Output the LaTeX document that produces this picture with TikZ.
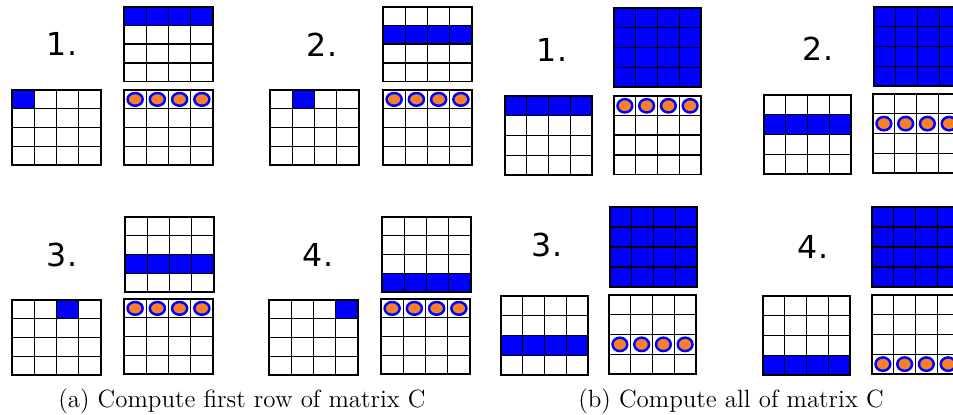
\documentclass[tikz,border=0pt]{standalone}
\usepackage{fontspec}
\newfontfamily\stepfont{DejaVu Sans}
\usetikzlibrary{positioning}
\definecolor{mBlue}{RGB}{0,0,255}
\definecolor{mOrange}{RGB}{250,128,40}
\tikzset{
  mgridline/.style={draw=black, line width=0.8pt, line cap=rect},
  mrowfill/.style={fill=mBlue},
  mdot/.style={draw=mBlue, fill=mOrange, line width=1.4pt},
  mstep/.style={font=\stepfont\fontsize{18}{20}\selectfont, inner sep=0pt},
  mcaption/.style={font=\fontsize{14.2}{16}\selectfont, inner sep=0pt},
}
% left, top, cell width, cell height, what goes into the cells
\newcommand{\cellgrid}[5]{%
  \begin{scope}[shift={(#1,#2)}, xscale=#3, yscale=#4]
    #5
    \foreach \k in {0,...,4} {
      \draw[mgridline] (\k,0) -- (\k,4);
      \draw[mgridline] (0,\k) -- (4,\k);
    }
  \end{scope}}
\newcommand{\fillrow}[1]{\fill[mrowfill] (0,#1) rectangle (4,#1+1);}
\newcommand{\fillcell}[2]{\fill[mrowfill] (#1,#2) rectangle (#1+1,#2+1);}
\newcommand{\dotrow}[1]{\foreach \c in {0,...,3} {\draw[mdot] (\c+0.5,#1+0.5) circle (0.34);}}

\begin{document}
\begin{tikzpicture}[x=0.02cm, y=-0.02cm]
  \useasboundingbox (0,0) rectangle (953,415);
  \clip (0,0) rectangle (953,415);

  % (a) first row of C
  \node[mstep] (a1) at (62,44) {1.};
  \cellgrid{124}{7}{22.25}{18.6}{\fillrow{0}}
  \cellgrid{12}{90}{22.25}{18.75}{\fillcell{0}{0}}
  \cellgrid{124}{90}{22.25}{18.75}{\dotrow{0}}

  \node[mstep] (a2) at (322,45) {2.};
  \cellgrid{383}{7}{22.25}{18.6}{\fillrow{1}}
  \cellgrid{270}{90}{22.25}{18.75}{\fillcell{1}{0}}
  \cellgrid{383}{90}{22.25}{18.75}{\dotrow{0}}

  \node[mstep] (a3) at (62,255) {3.};
  \cellgrid{125}{217}{22.25}{18.75}{\fillrow{2}}
  \cellgrid{12}{300}{22.25}{18.75}{\fillcell{2}{0}}
  \cellgrid{124}{299}{22.25}{18.75}{\dotrow{0}}

  \node[mstep] (a4) at (318,255) {4.};
  \cellgrid{382}{217}{22.25}{18.75}{\fillrow{3}}
  \cellgrid{269}{300}{22.25}{18.75}{\fillcell{3}{0}}
  \cellgrid{381}{299}{22.25}{18.75}{\dotrow{0}}

  \node[mcaption] (capa) at (242,401) {(a) Compute first row of matrix C};

  % (b) all of C
  \node[mstep] (b1) at (552,50) {1.};
  \cellgrid{614}{8}{21.75}{19.75}{\fill[mrowfill] (0,0) rectangle (4,4);}
  \cellgrid{505}{96}{21.75}{19.75}{\fillrow{0}}
  \cellgrid{614}{96}{21.75}{19.6}{\dotrow{0}}

  \node[mstep] (b2) at (818,49) {2.};
  \cellgrid{874}{7}{21.75}{19.75}{\fill[mrowfill] (0,0) rectangle (4,4);}
  \cellgrid{764}{95}{21.75}{19.75}{\fillrow{1}}
  \cellgrid{873}{94}{21.75}{19.75}{\dotrow{1}}

  \node[mstep] (b3) at (547,245) {3.};
  \cellgrid{610}{207}{21.75}{20}{\fill[mrowfill] (0,0) rectangle (4,4);}
  \cellgrid{501}{296}{21.75}{19.75}{\fillrow{2}}
  \cellgrid{609}{295}{21.75}{19.75}{\dotrow{2}}

  \node[mstep] (b4) at (813,247) {4.};
  \cellgrid{872}{207}{21.75}{20}{\fill[mrowfill] (0,0) rectangle (4,4);}
  \cellgrid{763}{296}{21.75}{19.75}{\fillrow{3}}
  \cellgrid{872}{295}{21.75}{19.75}{\dotrow{3}}

  \node[mcaption] (capb) at (731,401) {(b) Compute all of matrix C};
\end{tikzpicture}
\end{document}
